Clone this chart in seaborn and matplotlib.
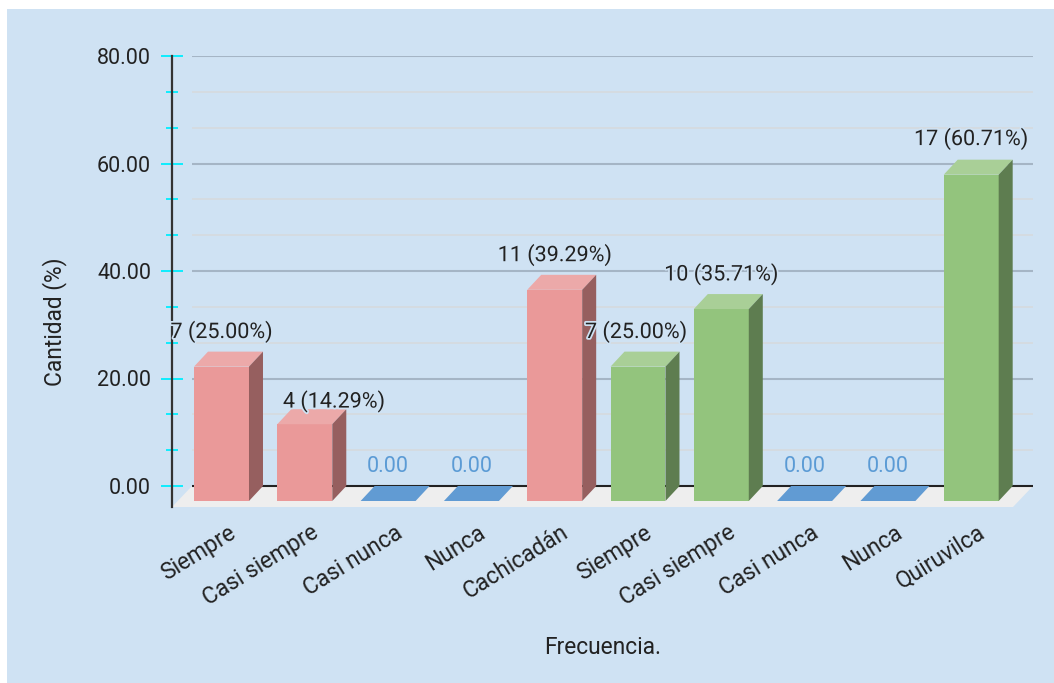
import matplotlib
matplotlib.use("Agg")
import matplotlib.pyplot as plt
import matplotlib.patheffects as pe
from matplotlib.patches import Polygon, Rectangle
from matplotlib.transforms import ScaledTranslation
import numpy as np
import pandas as pd
import seaborn as sns

categories = ["Siempre", "Casi siempre", "Casi nunca", "Nunca", "Cachicadán",
              "Siempre", "Casi siempre", "Casi nunca", "Nunca", "Quiruvilca"]
groups = ["Cachicadán"] * 5 + ["Quiruvilca"] * 5
counts = [7, 4, 0, 0, 11, 7, 10, 0, 0, 17]
percents = [25.00, 14.29, 0, 0, 39.29, 25.00, 35.71, 0, 0, 60.71]
major_ticks = [0, 20, 40, 60, 80]
minor_ticks = [6.67, 13.33, 26.67, 33.33, 46.67, 53.33, 66.67, 73.33]

W, H = 1054, 683
BG = "#cfe2f3"
ZERO_BLUE = "#619bd3"
INK = "#222222"
FRONT = {"Cachicadán": "#ea9999", "Quiruvilca": "#93c47d"}
SHADE = {"#ea9999": ("#eca9a9", "#965f5f"), "#93c47d": ("#a9cf97", "#5e7d50")}
FONT = "Roboto"
FS = 15.5
FS_TEXT = 16.4

plt.rcParams["font.family"] = [FONT, "DejaVu Sans"]
fig = plt.figure(figsize=(W / 100, H / 100), dpi=100, facecolor="white")
fig.add_artist(Rectangle((7 / W, 0), (W - 7) / W, (H - 9) / H,
                         transform=fig.transFigure, fc=BG, ec="none", zorder=-5))

# Plot area: left spine at x=172, right end at x=1033, y=80 at row 56, bottom at row 507
px_per_unit = 5.375
y_bottom = -(507 - 486) / px_per_unit
ax = fig.add_axes([172 / W, (H - 507) / H, 861 / W, (507 - 56) / H])
ax.patch.set_alpha(0)

df = pd.DataFrame({"pos": range(len(categories)), "percent": percents, "group": groups})
sns.barplot(data=df, x="pos", y="percent", hue="group", palette=FRONT, dodge=False,
            width=0.66, saturation=1, legend=False, ax=ax, zorder=4, linewidth=0)

slot_px = 83.3
depth_x = 14 / slot_px
depth_y = 15 / px_per_unit
ax.set_xlim((172 - 221.5) / slot_px, (1033 - 221.5) / slot_px)
ax.set_ylim(y_bottom, 80)

# Floor of the 3D box
x0, x1 = ax.get_xlim()
floor = Polygon([(x0, y_bottom), (x0 + 20 / slot_px, 0), (x1, 0), (x1 - 20 / slot_px, y_bottom)],
                closed=True, fc="#eeeeee", ec="none", zorder=1)
ax.add_patch(floor)

# Grid, inset from the spine
ytrans = ax.get_yaxis_transform()
inset = 20 / 861
ax.hlines(minor_ticks, inset, 1, transform=ytrans, color="#d5dbe0", lw=1.3, zorder=2)
ax.hlines(major_ticks[1:], inset, 1, transform=ytrans, color="#a5b5c5", lw=1.5, zorder=2)
ax.hlines(0, inset, 1, transform=ytrans, color="#222222", lw=1.5, zorder=2)

# Extrude each bar: the library's rectangle becomes the front face, pushed below the floor line
for bar in [p for p in ax.patches if isinstance(p, Rectangle) and p.get_width() > 0]:
    left, w, h = bar.get_x(), bar.get_width(), bar.get_height()
    bottom = -depth_y
    if h == 0:
        bar.set_visible(False)
        ax.add_patch(Polygon([(left, bottom), (left + w, bottom),
                              (left + w + depth_x, 0), (left + depth_x, 0)],
                             closed=True, fc=ZERO_BLUE, ec="none", zorder=4))
        continue
    face = matplotlib.colors.to_hex(bar.get_facecolor())
    top_c, side_c = SHADE[face]
    bar.set_y(bottom)
    top = bottom + h
    ax.add_patch(Polygon([(left, top), (left + w, top), (left + w + depth_x, top + depth_y),
                          (left + depth_x, top + depth_y)], closed=True, fc=top_c, ec="none", zorder=4))
    ax.add_patch(Polygon([(left + w, bottom), (left + w + depth_x, 0),
                          (left + w + depth_x, top + depth_y), (left + w, top)],
                         closed=True, fc=side_c, ec="none", zorder=4))

# Value labels, with a halo in the panel colour
nudges_px = [(0, 0), (29, -12), (0, 0), (0, 0), (0, 0), (-2, 0), (0, 0), (0, 0), (0, 0), (0, 1)]
halo = [pe.withStroke(linewidth=2.5, foreground=BG)]
for i, (n, p) in enumerate(zip(counts, percents)):
    dx, dy = nudges_px[i]
    if n == 0:
        ax.annotate(f"{p:.2f}", (i, 0), xytext=(dx * 0.72, 20 * 0.72), textcoords="offset points",
                    ha="center", va="center", color="#5b9bd5", fontsize=FS, zorder=6)
    else:
        ax.annotate(f"{n} ({p:.2f}%)", (i, p),
                    xytext=(dx * 0.72, (20 + dy) * 0.72), textcoords="offset points",
                    ha="center", va="center", color=INK, fontsize=FS, zorder=6, path_effects=halo)

# Axes dressing
for name in ("top", "right", "bottom"):
    ax.spines[name].set_visible(False)
ax.spines["left"].set_color("#333333")
ax.spines["left"].set_linewidth(1.6)
ax.set_yticks(major_ticks)
ax.set_yticklabels([f"{v:.2f}" for v in major_ticks], fontsize=FS, color=INK)
ax.set_yticks(minor_ticks, minor=True)
ax.tick_params(axis="y", which="major", direction="inout", length=16, width=1.3, color="#00eeff", pad=7)
ax.tick_params(axis="y", which="minor", direction="inout", length=8, width=1.3, color="#00eeff")
ax.set_xticks(range(len(categories)))
ax.set_xticklabels(categories, rotation=32, ha="right", rotation_mode="anchor", fontsize=FS_TEXT, color=INK)
ax.tick_params(axis="x", length=0, pad=10)
shift = ScaledTranslation(6 / 100, 0, fig.dpi_scale_trans)
for lbl in ax.get_xticklabels():
    lbl.set_transform(lbl.get_transform() + shift)
ax.set_xlabel("")
ax.set_ylabel("")
fig.text(603 / W, 1 - 647 / H, "Frecuencia.", ha="center", va="center", fontsize=FS_TEXT, color=INK)
fig.text(55 / W, 1 - 322 / H, "Cantidad (%)", ha="center", va="center", rotation=90, fontsize=FS_TEXT, color=INK)

fig.savefig("out.png", dpi=100, facecolor="white")
